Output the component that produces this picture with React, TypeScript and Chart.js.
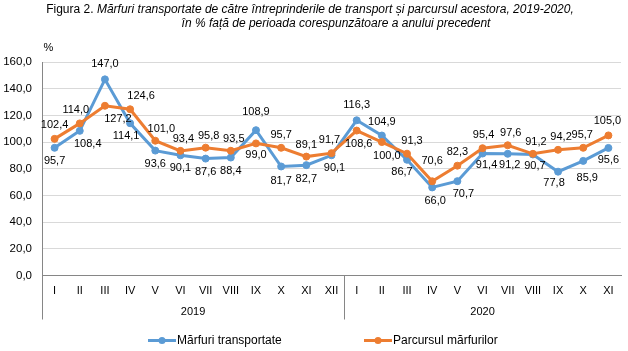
import React, { useEffect, useRef } from 'react';
import { Chart, registerables } from 'chart.js';

Chart.register(...registerables);

const months2019 = ['I', 'II', 'III', 'IV', 'V', 'VI', 'VII', 'VIII', 'IX', 'X', 'XI', 'XII'];
const months2020 = ['I', 'II', 'III', 'IV', 'V', 'VI', 'VII', 'VIII', 'IX', 'X', 'XI'];
const years = ['2019', '2020'];
const categories = [...months2019, ...months2020];

const marfuriTransportate = [
  95.7, 108.4, 147.0, 114.1, 93.6, 90.1, 87.6, 88.4, 108.9, 81.7, 82.7, 90.1,
  116.3, 104.9, 86.7, 66.0, 70.7, 91.4, 91.2, 90.7, 77.8, 85.9, 95.6,
];
const parcursulMarfurilor = [
  102.4, 114.0, 127.2, 124.6, 101.0, 93.4, 95.8, 93.5, 99.0, 95.7, 89.1, 91.7,
  108.6, 100.0, 91.3, 70.6, 82.3, 95.4, 97.6, 91.2, 94.2, 95.7, 105.0,
];

const seriesNames = ['Mărfuri transportate', 'Parcursul mărfurilor'];
const yMin = 0;
const yMax = 160;
const yStep = 20;
const yUnit = '%';

const titleLead = 'Figura 2. ';
const titleLine1 = 'Mărfuri transportate de către întreprinderile de transport și parcursul acestora, 2019-2020,';
const titleLine2 = 'în % față de perioada corespunzătoare a anului precedent';

const BLUE = '#5B9BD5';
const ORANGE = '#ED7D31';
const FONT = "'Liberation Sans', Arial, sans-serif";

const fmt = (v: number) => v.toFixed(1).replace('.', ',');

// label offsets [dx, dy] relative to the point, per series
const blueOffsets: [number, number][] = [
  [0, 13], [8, 13], [0, -15], [-4, 13], [0, 13], [0, 13], [0, 13], [0, 13], [0, -18], [0, 14], [0, 14], [3, 13],
  [0, -15], [0, -14], [-5, 12], [3, 14], [6, 13], [4, 11], [2, 11], [2, 11], [-4, 11], [4, 17], [0, 12],
];
const orangeOffsets: [number, number][] = [
  [0, -14], [-4, -13], [13, 13], [11, -13], [6, -12], [3, -12], [3, -12], [3, -12], [0, 12], [0, -13], [0, -12], [-2, -13],
  [2, 13], [5, 14], [5, -13], [0, -20], [0, -14], [1, -13], [3, -12], [3, -12], [3, -13], [-1, -13], [-1, -14],
];

const extrasPlugin = {
  id: 'extras',
  afterDraw(chart: any) {
    const ctx = chart.ctx;
    const area = chart.chartArea;
    const xs = chart.scales.x;
    ctx.save();

    // Title
    ctx.fillStyle = '#000';
    ctx.textBaseline = 'middle';
    ctx.textAlign = 'left';
    const tSize = 12;
    ctx.font = `${tSize}px ${FONT}`;
    const wLead = ctx.measureText(titleLead).width;
    ctx.font = `italic ${tSize}px ${FONT}`;
    const w1 = ctx.measureText(titleLine1).width;
    const w2 = ctx.measureText(titleLine2).width;
    const x1 = 310 - (wLead + w1) / 2;
    ctx.font = `${tSize}px ${FONT}`;
    ctx.fillText(titleLead, x1, 9.5);
    ctx.font = `italic ${tSize}px ${FONT}`;
    ctx.fillText(titleLine1, x1 + wLead, 9.5);
    ctx.fillText(titleLine2, 336 - w2 / 2, 23.5);

    // unit
    ctx.font = `11px ${FONT}`;
    ctx.textAlign = 'center';
    ctx.fillText(yUnit, area.left + 6.5, 47.5);

    // multi-level axis separators
    const bottomY = area.bottom + 44;
    ctx.strokeStyle = '#868686';
    ctx.lineWidth = 1;
    const sepIdx = [-0.5, months2019.length - 0.5];
    sepIdx.forEach((i) => {
      const px = Math.round(xs.getPixelForValue(i)) + 0.5;
      ctx.beginPath();
      ctx.moveTo(px, area.bottom);
      ctx.lineTo(px, bottomY);
      ctx.stroke();
    });

    // year labels
    ctx.fillStyle = '#000';
    ctx.font = `11px ${FONT}`;
    const groups = [
      [-0.5, months2019.length - 0.5],
      [months2019.length - 0.5, categories.length - 0.5],
    ];
    groups.forEach((g, k) => {
      const a = xs.getPixelForValue(g[0]);
      const b = xs.getPixelForValue(g[1]);
      ctx.fillText(years[k], (a + b) / 2, area.bottom + 36);
    });

    // data labels
    const offs = [blueOffsets, orangeOffsets];
    ctx.font = `11px ${FONT}`;
    ctx.textAlign = 'center';
    ctx.textBaseline = 'middle';
    chart.data.datasets.forEach((ds: any, di: number) => {
      const meta = chart.getDatasetMeta(di);
      meta.data.forEach((el: any, i: number) => {
        const o = offs[di][i] || [0, 0];
        ctx.fillText(fmt(ds.data[i]), el.x + o[0], el.y + o[1]);
      });
    });

    // legend
    const ly = 340.5;
    const items = [
      { color: BLUE, x: 148, text: seriesNames[0] },
      { color: ORANGE, x: 364, text: seriesNames[1] },
    ];
    ctx.font = `12px ${FONT}`;
    items.forEach((it) => {
      ctx.strokeStyle = it.color;
      ctx.lineWidth = 3;
      ctx.beginPath();
      ctx.moveTo(it.x, ly);
      ctx.lineTo(it.x + 28, ly);
      ctx.stroke();
      ctx.fillStyle = it.color;
      ctx.beginPath();
      ctx.arc(it.x + 14, ly, 3.5, 0, Math.PI * 2);
      ctx.fill();
      ctx.fillStyle = '#000';
      ctx.textAlign = 'left';
      ctx.fillText(it.text, it.x + 29, ly);
    });

    ctx.restore();
  },
};

export default function App() {
  const ref = useRef<HTMLCanvasElement | null>(null);
  useEffect(() => {
    if (!ref.current) return;
    const chart = new Chart(ref.current, {
      type: 'line',
      data: {
        labels: categories,
        datasets: [
          {
            label: seriesNames[0],
            data: marfuriTransportate,
            borderColor: BLUE,
            backgroundColor: BLUE,
            pointBackgroundColor: BLUE,
            pointBorderColor: BLUE,
            borderWidth: 3,
            pointRadius: 3.5,
            pointBorderWidth: 1,
            tension: 0,
            order: 2,
          },
          {
            label: seriesNames[1],
            data: parcursulMarfurilor,
            borderColor: ORANGE,
            backgroundColor: ORANGE,
            pointBackgroundColor: ORANGE,
            pointBorderColor: ORANGE,
            borderWidth: 3,
            pointRadius: 3.5,
            pointBorderWidth: 1,
            tension: 0,
            order: 1,
          },
        ],
      },
      options: {
        animation: false,
        responsive: false,
        devicePixelRatio: 1,
        layout: { padding: { top: 62, right: 7, left: 0, bottom: 0 } },
        plugins: {
          legend: { display: false },
          title: { display: false },
          tooltip: { enabled: false },
        },
        scales: {
          x: {
            type: 'category',
            offset: true,
            grid: { display: false, drawTicks: false },
            border: { display: true, color: '#868686', width: 1 },
            ticks: {
              color: '#000',
              font: { family: FONT, size: 11 },
              padding: 9,
              maxRotation: 0,
              autoSkip: false,
            },
            afterFit: (s: any) => {
              s.height = 75.5;
            },
          },
          y: {
            min: yMin,
            max: yMax,
            grid: { color: '#D9D9D9', drawTicks: false, lineWidth: 1 },
            border: { display: true, color: '#868686', width: 1 },
            ticks: {
              stepSize: yStep,
              color: '#000',
              font: { family: FONT, size: 11.5 },
              padding: 10,
              callback: (v: any) => fmt(Number(v)),
            },
            afterFit: (s: any) => {
              s.width = 42;
            },
          },
        },
      },
      plugins: [extrasPlugin],
    } as any);
    return () => chart.destroy();
  }, []);

  return (
    <div style={{ position: 'fixed', left: 0, top: 0, width: 628, height: 351, background: '#fff' }}>
      <canvas ref={ref} width={628} height={351} style={{ width: 628, height: 351 }} />
    </div>
  );
}
